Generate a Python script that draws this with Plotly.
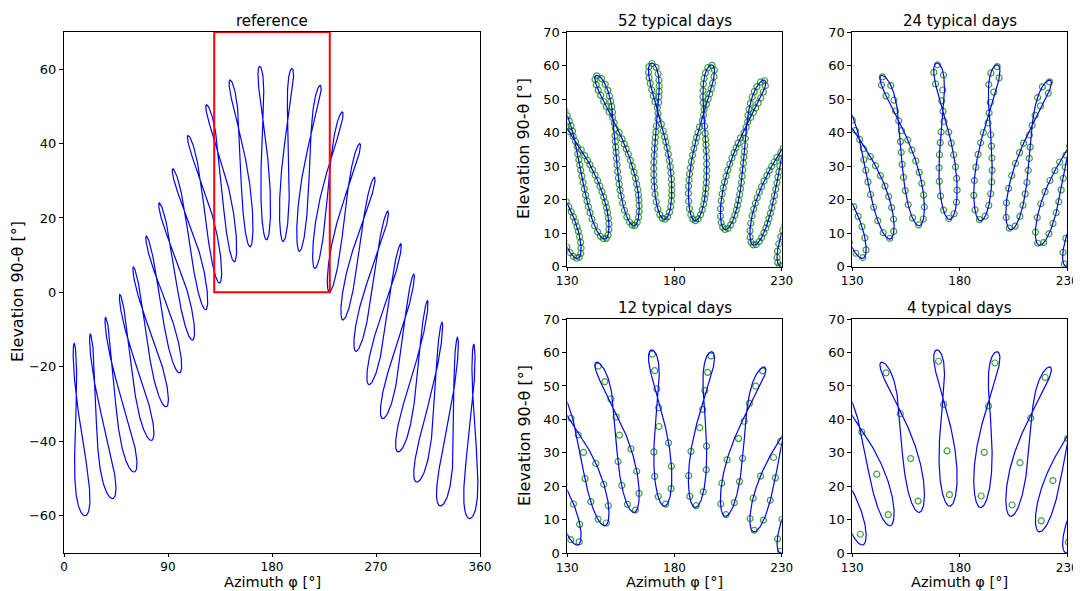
import numpy as np
import plotly.graph_objects as go

# ---------------- data / parameters ----------------
LATITUDE_DEG = 52.37          # site latitude
LONGITUDE_DEG = 9.73          # site longitude (east)
HOURS_UTC = list(range(24))   # one analemma per hour of the day
DAYS_OF_YEAR = list(range(1, 366))
TYPICAL_DAY_COUNTS = [52, 24, 12, 4]
PANEL_TITLES = ["reference", "52 typical days", "24 typical days",
                "12 typical days", "4 typical days"]
REF_X_TICKS = [0, 90, 180, 270, 360]
REF_Y_TICKS = [-60, -40, -20, 0, 20, 40, 60]
ZOOM_X_TICKS = [130, 180, 230]
ZOOM_Y_TICKS = [0, 10, 20, 30, 40, 50, 60, 70]
ZOOM_BOX = [130, 230, 0, 70]   # x0, x1, y0, y1
X_LABEL = "Azimuth φ [°]"
Y_LABEL = "Elevation 90-θ [°]"


def sun_position(days, hours):
    d = np.asarray(days, float)[:, None]
    h = np.asarray(hours, float)[None, :]
    g = 2 * np.pi / 365 * (d - 1 + (h - 12) / 24)
    eot = 229.18 * (0.000075 + 0.001868 * np.cos(g) - 0.032077 * np.sin(g)
                    - 0.014615 * np.cos(2 * g) - 0.040849 * np.sin(2 * g))
    decl = (0.006918 - 0.399912 * np.cos(g) + 0.070257 * np.sin(g)
            - 0.006758 * np.cos(2 * g) + 0.000907 * np.sin(2 * g)
            - 0.002697 * np.cos(3 * g) + 0.00148 * np.sin(3 * g))
    tst = h * 60 + eot + 4 * LONGITUDE_DEG
    ha = np.radians(tst / 4 - 180)
    phi = np.radians(LATITUDE_DEG)
    cosz = np.sin(phi) * np.sin(decl) + np.cos(phi) * np.cos(decl) * np.cos(ha)
    el = np.degrees(np.arcsin(np.clip(cosz, -1, 1)))
    az = np.degrees(np.arctan2(np.sin(ha),
                               np.cos(ha) * np.sin(phi) - np.tan(decl) * np.cos(phi))) + 180
    return az, el


AZ, EL = sun_position(DAYS_OF_YEAR, HOURS_UTC)   # shape (365, 24)


def lloyd(X, C, iters=500):
    for _ in range(iters):
        D = ((X[:, None, :] - C[None, :, :]) ** 2).sum(2)
        lab = D.argmin(1)
        newC = C.copy()
        for j in range(len(C)):
            m = lab == j
            if m.any():
                newC[j] = X[m].mean(0)
            else:
                far = D.min(1).argmax()
                newC[j] = X[far]
        if np.allclose(newC, C):
            break
        C = newC
    D = ((X[:, None, :] - C[None, :, :]) ** 2).sum(2)
    return C, D.min(1).sum()


def typical_days(k):
    X = np.hstack([EL, AZ])
    n = len(X)
    inits = []
    # chronological segments with several offsets
    for off in range(0, n, max(1, n // 8)):
        idx = np.roll(np.arange(n), -off)
        inits.append(np.array([X[s].mean(0) for s in np.array_split(idx, k)]))
    # bands of mean elevation
    order = np.argsort(EL.mean(1))
    inits.append(np.array([X[s].mean(0) for s in np.array_split(order, k)]))
    # farthest point
    start = int(np.argmax(EL.max(1)))
    ids = [start]
    dd = ((X - X[start]) ** 2).sum(1)
    for _ in range(k - 1):
        i = int(np.argmax(dd))
        ids.append(i)
        dd = np.minimum(dd, ((X - X[i]) ** 2).sum(1))
    inits.append(X[ids].copy())
    best, best_in = None, np.inf
    for C0 in inits:
        C, inertia = lloyd(X, C0.copy())
        if inertia < best_in:
            best, best_in = C, inertia
    return best[:, 24:], best[:, :24]


def curve_xy():
    xs, ys = [], []
    for j in range(len(HOURS_UTC)):
        xs += list(AZ[:, j]) + [AZ[0, j], None]
        ys += list(EL[:, j]) + [EL[0, j], None]
    return xs, ys


CX, CY = curve_xy()

# page has an 8 px body margin: figure occupies page pixels 8..(8+W)
OFF = 8
W, H = 1081 - OFF, 591 - OFF
FONT = "DejaVu Sans"


def fx(p):
    return (p - OFF) / W


def fy(p):
    return 1 - (p - OFF) / H


domains = [
    ([fx(64), fx(480)], [fy(552.7), fy(32)]),
    ([fx(567.3), fx(781.7)], [fy(266.7), fy(32)]),
    ([fx(852.3), fx(1067.3)], [fy(266.7), fy(32)]),
    ([fx(567.3), fx(781.7)], [fy(553.3), fy(319)]),
    ([fx(852.3), fx(1067.3)], [fy(553.3), fy(319)]),
]

fig = go.Figure()
common = dict(showline=True, mirror=True, linecolor="black", linewidth=1,
              ticks="outside", tickwidth=1, tickcolor="black",
              showgrid=False, zeroline=False, automargin=False)
x_style = dict(common, ticklen=3, tickfont=dict(family=FONT, size=12, color="black"))
y_style = dict(common, ticklen=4, tickfont=dict(family=FONT, size=13, color="black"))


def fmt(v):
    return ("\u2212" + str(-v)) if v < 0 else str(v)


for i, (dx, dy) in enumerate(domains):
    sfx = "" if i == 0 else str(i + 1)
    xa = "x" + sfx
    ya = "y" + sfx
    if i == 0:
        xr, yr, xt, yt = [0, 360], [-70, 70], REF_X_TICKS, REF_Y_TICKS
    else:
        xr, yr, xt, yt = [ZOOM_BOX[0], ZOOM_BOX[1]], [ZOOM_BOX[2], ZOOM_BOX[3]], ZOOM_X_TICKS, ZOOM_Y_TICKS
    fig.update_layout(**{
        "xaxis" + sfx: dict(domain=dx, range=xr, anchor=ya, tickvals=xt,
                            ticktext=[fmt(v) for v in xt], **x_style),
        "yaxis" + sfx: dict(domain=dy, range=yr, anchor=xa, tickvals=yt,
                            ticktext=[fmt(v) for v in yt], **y_style),
    })
    if i > 0:
        taz, tel = typical_days(TYPICAL_DAY_COUNTS[i - 1])
        fig.add_trace(go.Scatter(x=taz.ravel(), y=tel.ravel(), mode="markers",
                                 xaxis=xa, yaxis=ya, showlegend=False, hoverinfo="skip",
                                 marker=dict(symbol="circle-open", size=6,
                                             color="rgba(0,128,0,0.75)",
                                             line=dict(width=1.2))))
    fig.add_trace(go.Scatter(x=CX, y=CY, mode="lines", xaxis=xa, yaxis=ya,
                             showlegend=False, hoverinfo="skip",
                             line=dict(color="blue", width=1.2)))

fig.add_shape(type="rect", xref="x", yref="y", x0=ZOOM_BOX[0], x1=ZOOM_BOX[1],
              y0=ZOOM_BOX[2], y1=ZOOM_BOX[3], line=dict(color="red", width=2))

ann = []
title_pos = [(272, 21), (674.5, 21), (959.8, 21), (674.5, 308), (959.8, 308)]
for t, (x, y) in zip(PANEL_TITLES, title_pos):
    ann.append(dict(text=t, x=fx(x), y=fy(y), xref="paper", yref="paper",
                    showarrow=False, xanchor="center", yanchor="middle",
                    font=dict(family=FONT, size=15, color="black")))
for (x, y) in [(17, 292), (523, 149), (524, 436)]:
    ann.append(dict(text=Y_LABEL, x=fx(x), y=fy(y), xref="paper", yref="paper",
                    showarrow=False, textangle=-90, xanchor="center", yanchor="middle",
                    font=dict(family=FONT, size=16, color="black")))
for x in [272, 674.5, 959.8]:
    ann.append(dict(text=X_LABEL, x=fx(x), y=fy(591), xref="paper", yref="paper",
                    showarrow=False, xanchor="center", yanchor="bottom", borderpad=0,
                    font=dict(family=FONT, size=14.5, color="black")))

fig.update_layout(width=W, height=H, margin=dict(l=0, r=0, t=0, b=0),
                  paper_bgcolor="white", plot_bgcolor="white", annotations=ann)

fig.write_html("out.html")
